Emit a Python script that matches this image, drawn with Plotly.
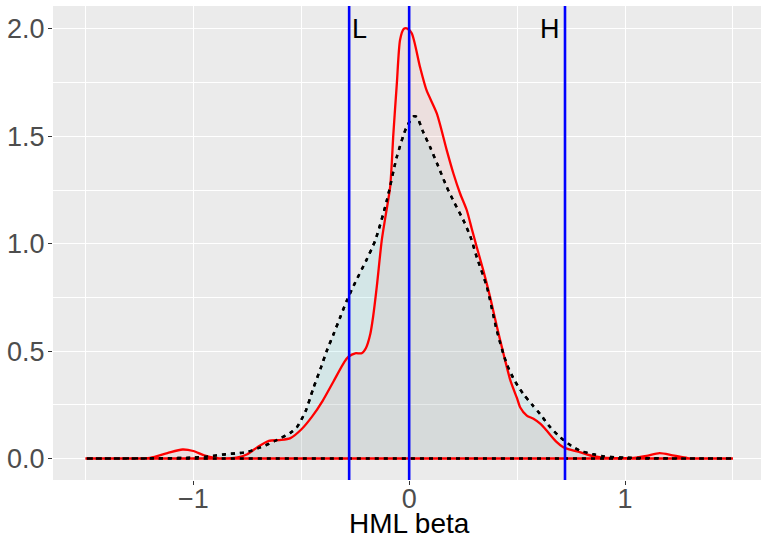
import plotly.graph_objects as go

# Red (solid) density
red_x = [-1.5, -1.3, -1.2, -1.12, -1.05, -1.0, -0.95, -0.9, -0.85, -0.8, -0.75, -0.7, -0.65,
         -0.6, -0.55, -0.5, -0.45, -0.4, -0.35, -0.3, -0.28, -0.25, -0.22, -0.2, -0.18, -0.167,
         -0.15, -0.127, -0.11, -0.088, -0.073, -0.057, -0.042, -0.025, -0.011, 0.012, 0.05, 0.08,
         0.128, 0.174, 0.205, 0.236, 0.267, 0.29, 0.313, 0.345, 0.375, 0.405, 0.437, 0.47, 0.5,
         0.514, 0.545, 0.576, 0.61, 0.637, 0.68, 0.714, 0.75, 0.79, 0.85, 0.9, 1.0, 1.05, 1.1,
         1.16, 1.22, 1.29, 1.35, 1.5]
red_y = [0.0, 0.0, 0.003, 0.025, 0.042, 0.035, 0.015, 0.003, 0.0, 0.004, 0.02, 0.055, 0.082,
         0.086, 0.095, 0.135, 0.195, 0.27, 0.36, 0.45, 0.475, 0.49, 0.49, 0.515, 0.58, 0.66,
         0.8, 1.016, 1.125, 1.265, 1.514, 1.747, 1.95, 2.0, 2.003, 1.98, 1.824, 1.716,
         1.607, 1.436, 1.327, 1.234, 1.156, 1.07, 0.985, 0.87, 0.752, 0.62, 0.488, 0.36, 0.28,
         0.239, 0.2, 0.185, 0.16, 0.13, 0.08, 0.053, 0.04, 0.03, 0.012, 0.004, 0.002, 0.004, 0.012,
         0.025, 0.015, 0.002, 0.0, 0.0]

# Black (dotted) density
blk_x = [-1.5, -1.2, -1.0, -0.93, -0.85, -0.8, -0.75, -0.7, -0.65, -0.6, -0.55, -0.52, -0.48,
         -0.443, -0.41, -0.381, -0.35, -0.319, -0.288, -0.25, -0.2, -0.157, -0.103, -0.057,
         -0.011, 0.023, 0.036, 0.065, 0.097, 0.135, 0.174, 0.21, 0.251, 0.285, 0.313, 0.36,
         0.406, 0.452, 0.49, 0.529, 0.57, 0.606, 0.65, 0.699, 0.75, 0.79, 0.85, 0.9, 1.0, 1.1,
         1.3, 1.5]
blk_y = [0.0, 0.001, 0.004, 0.01, 0.02, 0.024, 0.03, 0.048, 0.068, 0.093, 0.12, 0.146, 0.22,
         0.33, 0.42, 0.503, 0.58, 0.659, 0.737, 0.82, 0.92, 1.016, 1.203, 1.405,
         1.545, 1.594, 1.59, 1.52, 1.45, 1.36, 1.265, 1.19, 1.11, 1.03, 0.938, 0.8,
         0.597, 0.44, 0.36, 0.3, 0.25, 0.208, 0.15, 0.1, 0.06, 0.037, 0.02, 0.01, 0.004, 0.002,
         0.0, 0.0]

vlines = [-0.278, 0.0, 0.722]
labels = [("L", -0.278, "left"), ("H", 0.722, "right")]
label_y = 2.0

x_ticks = [-1, 0, 1]
y_ticks = [0.0, 0.5, 1.0, 1.5, 2.0]
x_title = "HML beta"

FAM = "Liberation Sans, Arial, sans-serif"

fig = go.Figure()

fig.add_trace(go.Scatter(
    x=blk_x + [blk_x[0]], y=blk_y + [0.0],
    mode="lines", fill="toself", fillcolor="rgba(0,191,196,0.1)",
    line=dict(color="black", width=2.4, dash="4px,5px", shape="spline", smoothing=0.7),
    hoverinfo="skip", showlegend=False))

fig.add_trace(go.Scatter(
    x=red_x + [red_x[0]], y=red_y + [0.0],
    mode="lines", fill="toself", fillcolor="rgba(248,118,109,0.1)",
    line=dict(color="#FF0000", width=2.3, shape="spline", smoothing=0.7),
    hoverinfo="skip", showlegend=False))

# dotted outline again on top
fig.add_trace(go.Scatter(
    x=blk_x + [blk_x[0]], y=blk_y + [0.0],
    mode="lines",
    line=dict(color="black", width=2.4, dash="4px,5px", shape="spline", smoothing=0.7),
    hoverinfo="skip", showlegend=False))

for v in vlines:
    fig.add_shape(type="line", x0=v, x1=v, yref="paper", y0=0, y1=1,
                  line=dict(color="#0000FF", width=2.6), layer="above")

for txt, xv, anchor in labels:
    fig.add_annotation(x=xv, y=label_y, text=txt, showarrow=False,
                       xanchor=anchor, yanchor="middle",
                       xshift=1 if anchor == "left" else -3,
                       font=dict(family=FAM, size=27, color="black"))

fig.add_annotation(x=0, xref="x", y=0, yref="paper", text=x_title, showarrow=False,
                   xanchor="center", yanchor="middle", yshift=-43,
                   font=dict(family=FAM, size=28, color="black"))

axis_font = dict(family=FAM, size=27, color="#4D4D4D")

fig.update_layout(
    width=761, height=541,
    margin=dict(l=53, r=0, t=6, b=61),
    paper_bgcolor="white", plot_bgcolor="#EBEBEB",
    font=dict(family=FAM),
    xaxis=dict(range=[-1.65, 1.63], tickvals=x_ticks, showgrid=True, gridcolor="white",
               gridwidth=1.4, zeroline=False, ticks="outside", ticklen=4, tickwidth=1,
               tickcolor="#333333", tickfont=axis_font, showline=False, automargin=False,
               ticklabelstandoff=-9,
               minor=dict(tickvals=[-1.5, -0.5, 0.5, 1.5], showgrid=True, gridcolor="white",
                          gridwidth=0.7, ticks="")),
    yaxis=dict(range=[-0.1, 2.107], tickvals=y_ticks, tickformat=".1f", showgrid=True,
               gridcolor="white", gridwidth=1.4, zeroline=False, ticks="outside", ticklen=4,
               tickwidth=1, tickcolor="#333333", tickfont=axis_font, showline=False,
               automargin=False, ticklabelstandoff=-2,
               minor=dict(tickvals=[0.25, 0.75, 1.25, 1.75], showgrid=True, gridcolor="white",
                          gridwidth=0.7, ticks="")),
)

fig.write_html("out.html", config={"displayModeBar": False},
               post_script="document.body.style.margin='0px';")
